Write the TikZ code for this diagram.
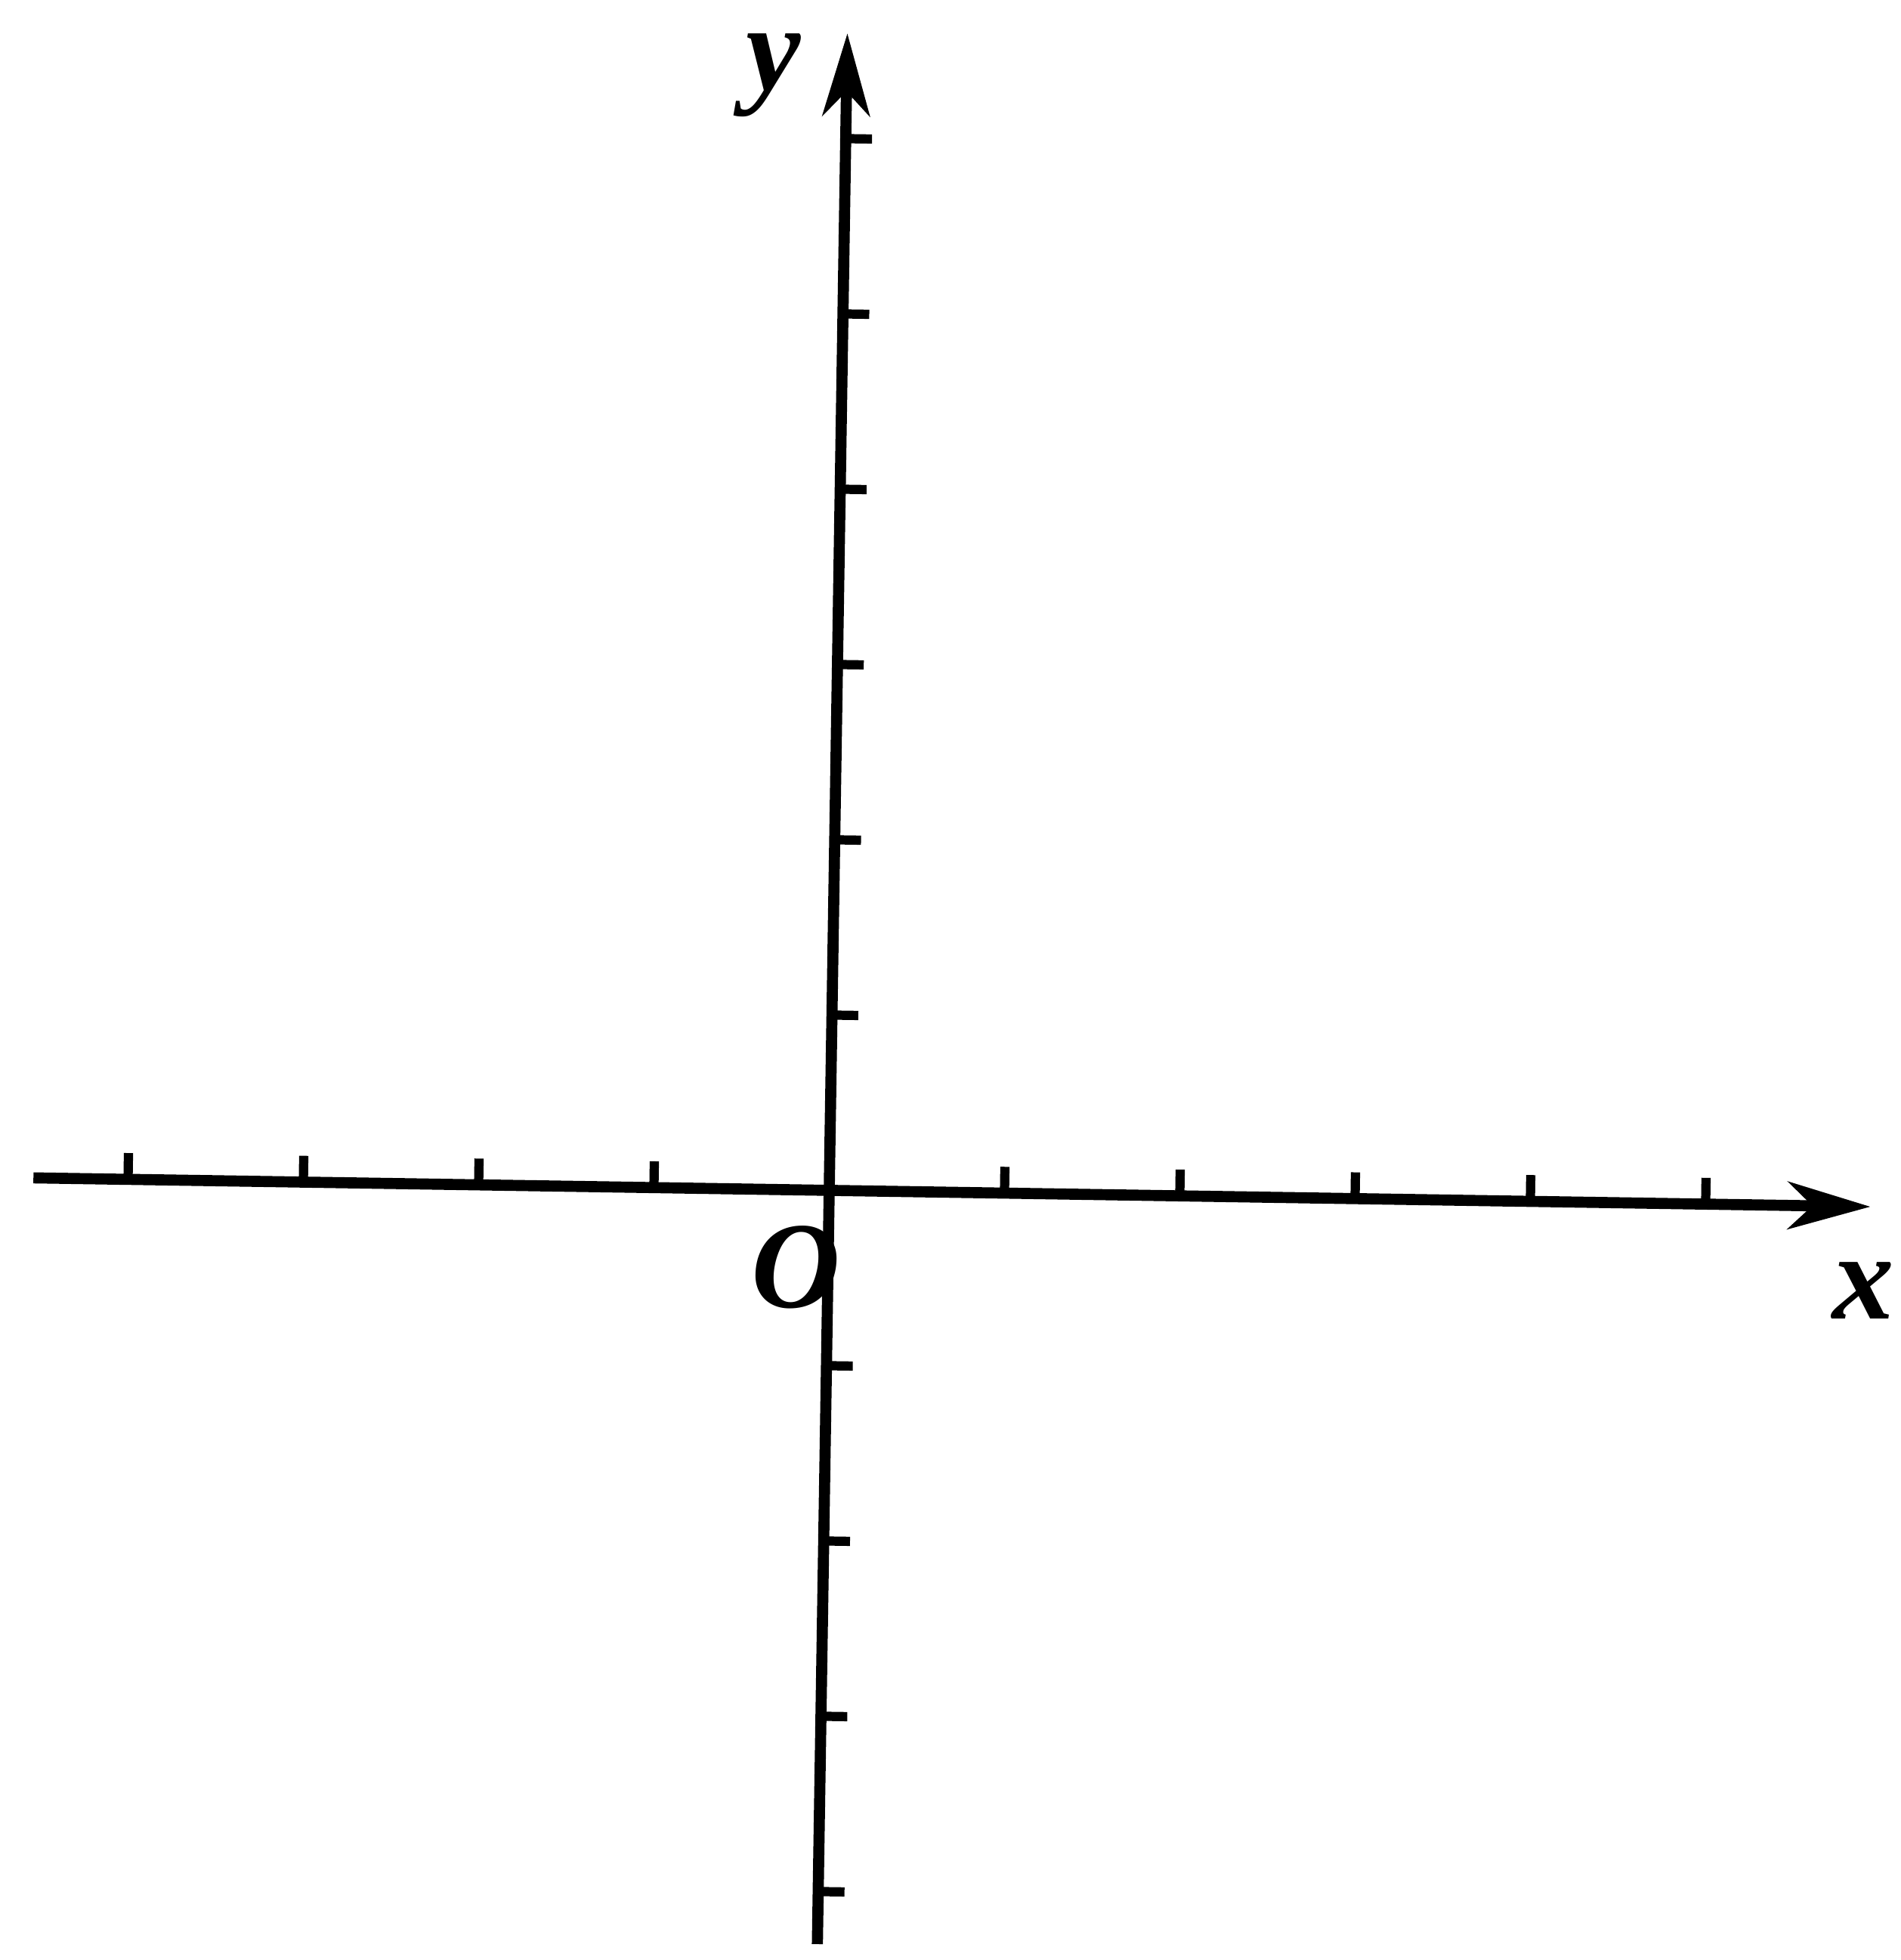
\documentclass[tikz,border=0pt]{standalone}
\usepackage{fontspec}
\setmainfont{Liberation Serif}
\usetikzlibrary{arrows.meta}

\begin{document}
\begin{tikzpicture}[line width=1.8pt,
  axislabel/.style={font=\fontsize{20}{24}\selectfont\bfseries\itshape, inner sep=0pt},
  axisline/.style={-{Stealth[length=4.7mm, width=2.7mm, inset=1.4mm]}},
  tickmark/.style={line width=1.5pt}]
  \useasboundingbox (-4.73,-4.39) rectangle (6.11,6.79);
  \begin{scope}[rotate=-0.9]
    \coordinate (orig) at (0,0);
    \coordinate (xmin) at (-4.54,0);
    \coordinate (xmax) at (5.94,0);
    \coordinate (ymin) at (0,-4.3);
    \coordinate (ymax) at (0,6.6);
    \draw[axisline] (xmin) -- (xmax);
    \draw[axisline] (ymin) -- (ymax);
    % ticks
    \foreach \i in {-4,-3,-2,-1,1,2,3,4,5}
      \draw[tickmark] (\i,0) -- (\i,0.15);
    \foreach \j in {-4,-3,-2,-1,1,2,3,4,5,6}
      \draw[tickmark] (0,\j) -- (0.15,\j);
  \end{scope}
  \node[axislabel] (xlab) at (5.9,-0.57) {x};
  \node[axislabel] (ylab) at (-0.32,6.36) {y};
  \node[axislabel] (olab) at (-0.19,-0.44) {O};
\end{tikzpicture}
\end{document}
